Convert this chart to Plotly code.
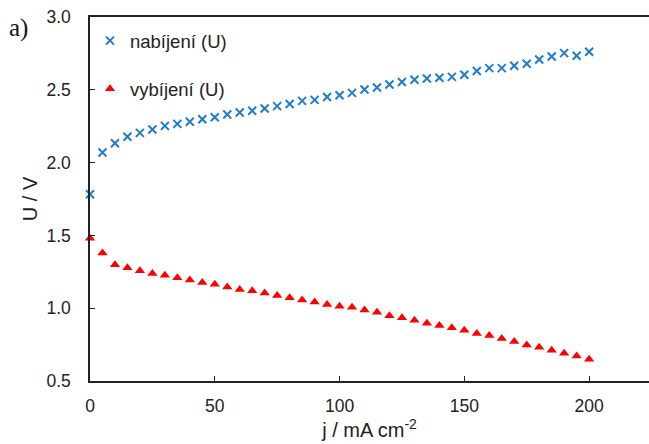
import plotly.graph_objects as go

j = [0, 5, 10, 15, 20, 25, 30, 35, 40, 45, 50, 55, 60, 65, 70, 75, 80, 85, 90, 95, 100,
     105, 110, 115, 120, 125, 130, 135, 140, 145, 150, 155, 160, 165, 170, 175, 180, 185, 190, 195, 200]

u_nabijeni = [1.783, 2.069, 2.133, 2.177, 2.204, 2.227, 2.252, 2.266, 2.280, 2.298, 2.312,
              2.330, 2.344, 2.356, 2.371, 2.388, 2.402, 2.424, 2.431, 2.450, 2.463,
              2.479, 2.502, 2.516, 2.536, 2.553, 2.569, 2.578, 2.583, 2.589, 2.603,
              2.629, 2.649, 2.649, 2.665, 2.679, 2.708, 2.729, 2.752, 2.734, 2.761]

u_vybijeni = [1.480, 1.379, 1.299, 1.278, 1.257, 1.239, 1.226, 1.209, 1.193, 1.177, 1.164,
              1.145, 1.129, 1.120, 1.104, 1.088, 1.072, 1.056, 1.042, 1.026, 1.014,
              1.006, 0.988, 0.973, 0.948, 0.934, 0.918, 0.897, 0.881, 0.865, 0.849,
              0.826, 0.813, 0.792, 0.772, 0.748, 0.732, 0.712, 0.691, 0.671, 0.650]

x_ticks = [0, 50, 100, 150, 200]
y_ticks = [0.5, 1.0, 1.5, 2.0, 2.5, 3.0]

fig = go.Figure()
fig.add_trace(go.Scatter(
    x=j, y=u_nabijeni, mode="markers", name="nabíjení (U)", legendgroup="a",
    marker=dict(symbol="x-thin", size=8, line=dict(width=2, color="#1f7ccf"), color="#1f7ccf"),
    cliponaxis=False,
))
fig.add_trace(go.Scatter(
    x=j, y=u_vybijeni, mode="markers", name="vybíjení (U)", legendgroup="b",
    marker=dict(symbol="triangle-up", size=9, color="#ff0000"),
    cliponaxis=False,
))

tick_font = dict(family="Liberation Sans, Arial, sans-serif", size=17.5, color="#222222")
title_font = dict(family="Liberation Sans, Arial, sans-serif", size=20, color="#222222")

fig.update_layout(
    width=649, height=444,
    margin=dict(l=90, r=0, t=17, b=63),
    paper_bgcolor="white", plot_bgcolor="white",
    font=dict(family="Liberation Sans, Arial, sans-serif", size=17, color="#222222"),
    legend=dict(
        x=0.0, y=0.986, xanchor="left", yanchor="top",
        font=dict(size=18.5, color="#222222"),
        bgcolor="rgba(0,0,0,0)", tracegroupgap=21, traceorder="grouped",
        itemwidth=30,
    ),
    xaxis=dict(
        range=[0, 224], tickvals=x_ticks, ticktext=[str(v) for v in x_ticks],
        showgrid=False, zeroline=False, showline=True, linecolor="#222222", linewidth=1.5,
        mirror=True, ticks="inside", ticklen=5, tickcolor="#222222", tickfont=tick_font,
        ticklabelstandoff=8,
        title=dict(text="j / mA cm<sup>-2</sup>", font=title_font, standoff=4),
    ),
    yaxis=dict(
        range=[0.5, 3.0], tickvals=y_ticks, ticktext=[f"{v:.1f}" for v in y_ticks],
        showgrid=False, zeroline=False, showline=True, linecolor="#222222", linewidth=1.5,
        ticks="inside", ticklen=5, tickcolor="#222222", tickfont=tick_font,
        ticklabelstandoff=14,
        title=dict(text="U / V", font=title_font, standoff=3),
    ),
    annotations=[dict(
        text="a)", xref="paper", yref="paper", x=-0.148, y=0.97, xanchor="left", yanchor="middle",
        showarrow=False, font=dict(family="Liberation Serif, Times New Roman, serif", size=25, color="#111111"),
    )],
)

fig.write_html("out.html", config={"displayModeBar": False},
               post_script="document.body.style.margin='0';")
